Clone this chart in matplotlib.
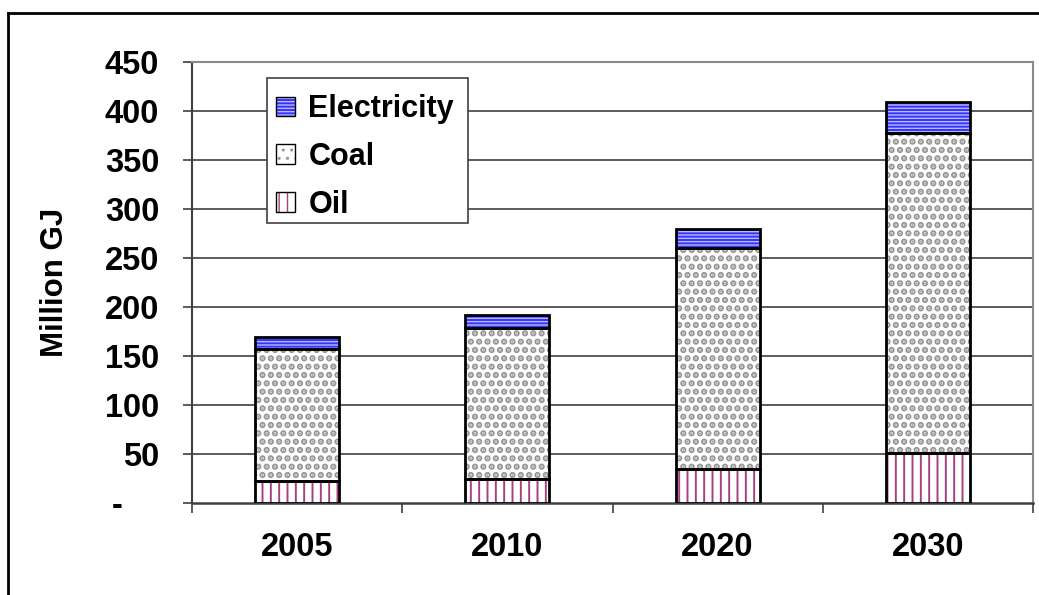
import matplotlib
matplotlib.use("Agg")
import matplotlib.pyplot as plt
from matplotlib.patches import Patch, Rectangle
from matplotlib.lines import Line2D
from matplotlib.legend_handler import HandlerTuple
import numpy as np

years = ["2005", "2010", "2020", "2030"]
oil = [22, 24, 35, 51]
coal = [135, 155, 225, 327]
electricity = [12, 13, 20, 31]
yticks = [0, 50, 100, 150, 200, 250, 300, 350, 400, 450]
ytick_labels = ["-    ", "50", "100", "150", "200", "250", "300", "350", "400", "450"]

plt.rcParams['font.family'] = ['Liberation Sans', 'DejaVu Sans']
plt.rcParams['font.weight'] = 'bold'

W, H = 1039, 595
fig = plt.figure(figsize=(W / 100, H / 100), dpi=100)
fig.patch.set_facecolor('white')
ax = fig.add_axes([192 / W, 1 - 503 / H, (1033 - 192) / W, (503 - 62) / H])

x = np.arange(len(years))
bw = 0.4
styles = {
    'Oil': dict(face='white', hatch='||', hcol='#a8407e', hlw=1.4),
    'Coal': dict(face='white', hatch='..', hcol='#959595', hlw=3.2),
    'Electricity': dict(face='#3434ff', hatch='-----', hcol='#b8b8ff', hlw=1.0),
}
series = [('Oil', oil), ('Coal', coal), ('Electricity', electricity)]
bottom = np.zeros(len(years))
handles = {}
for name, vals in series:
    s = styles[name]
    with plt.rc_context({'hatch.linewidth': s['hlw']}):
        ax.bar(x, vals, bw, bottom=bottom, color=s['face'], hatch=s['hatch'],
               edgecolor=s['hcol'], linewidth=0, zorder=3)
        hp = Patch(facecolor=s['face'], hatch=s['hatch'], edgecolor=s['hcol'], linewidth=0)
    ax.bar(x, vals, bw, bottom=bottom, fill=False, edgecolor='black',
           linewidth=2, zorder=4)
    bottom += np.array(vals)
    handles[name] = (hp, Patch(fill=False, edgecolor='black', linewidth=1))

ax.set_xlim(-0.5, len(years) - 0.5)
ax.set_ylim(0, 450)
ax.set_yticks(yticks)
ax.set_yticklabels(ytick_labels, fontsize=23.5, fontweight='bold')
ax.set_xticks(x)
ax.set_xticklabels(years, fontsize=23.5, fontweight='bold')
ax.set_xticks(np.arange(-0.5, len(years), 1.0), minor=True)
ax.tick_params(axis='x', which='major', length=0, pad=21)
ax.tick_params(axis='x', which='minor', length=7.5, width=1.2, color='#404040', direction='out')
ax.tick_params(axis='y', which='major', length=6.5, width=1.2, color='#404040', direction='out', pad=17)

for yv in yticks[1:-1]:
    ax.axhline(yv, color='#404040', linewidth=1.2, zorder=1)

ax.spines['top'].set_color('#8a8a8a')
ax.spines['top'].set_linewidth(1.5)
ax.spines['right'].set_color('#8a8a8a')
ax.spines['right'].set_linewidth(1.5)
ax.spines['left'].set_color('#404040')
ax.spines['left'].set_linewidth(1.5)
ax.spines['bottom'].set_color('#404040')
ax.spines['bottom'].set_linewidth(1.8)

ax.set_ylabel("Million GJ", fontsize=22.5, fontweight='bold')
ax.yaxis.set_label_coords(-(192 - 70) / (1033 - 192), 0.5)

# legend frame drawn separately
fig.add_artist(Rectangle((267 / W, 1 - 223 / H), (468 - 267) / W, (223 - 78) / H,
                         transform=fig.transFigure, facecolor='white',
                         edgecolor='#404040', linewidth=1.2, zorder=4))

order = ['Electricity', 'Coal', 'Oil']
leg = fig.legend([handles[n] for n in order], order,
                 handler_map={tuple: HandlerTuple(ndivide=1)},
                 loc='upper left', bbox_to_anchor=(267 / W, 1 - 85 / H),
                 bbox_transform=fig.transFigure, borderaxespad=0,
                 prop={'weight': 'bold', 'size': 22},
                 handlelength=0.6, handleheight=0.6, handletextpad=0.45,
                 labelspacing=0.58, borderpad=0.3, frameon=False)
leg.set_zorder(5)

# outer chart border
fig.add_artist(Line2D([8 / W, 8 / W], [0, 1 - 13 / H], transform=fig.transFigure,
                      color='black', linewidth=2))
fig.add_artist(Line2D([8 / W, 1], [1 - 13 / H, 1 - 13 / H], transform=fig.transFigure,
                      color='black', linewidth=2))

fig.savefig("out.png", dpi=100)
